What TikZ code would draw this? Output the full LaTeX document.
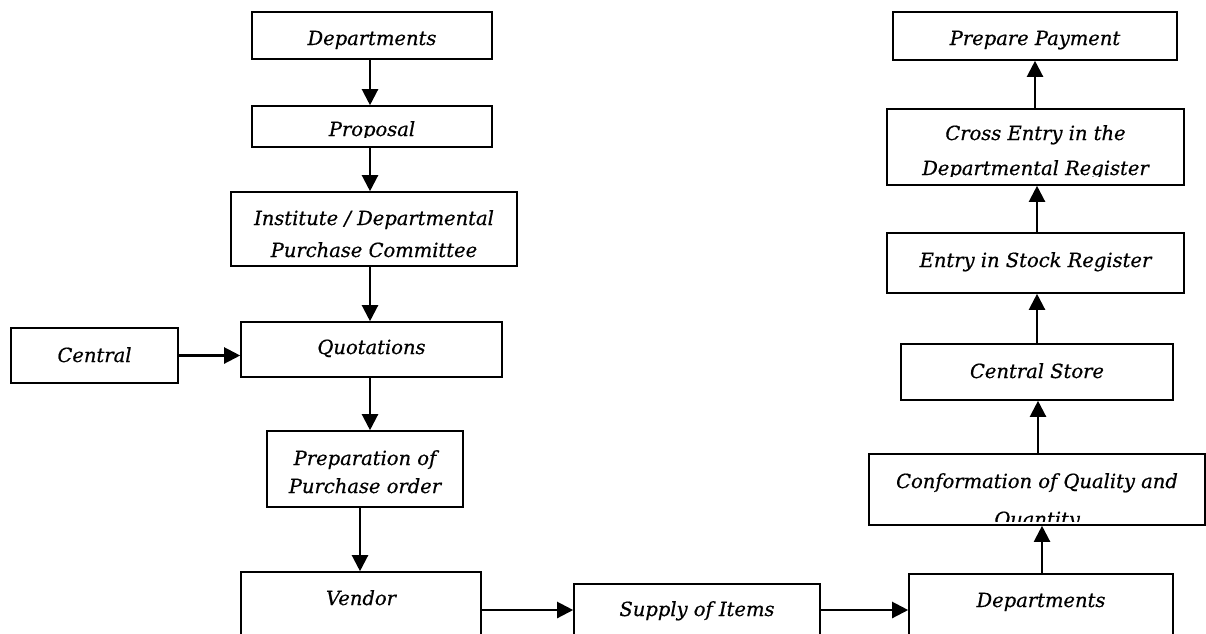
\documentclass[tikz,border=0pt]{standalone}
\usepackage{fontspec}
\setmainfont{DejaVu Serif}[ItalicFeatures={FakeBold=0.6}]
\usetikzlibrary{arrows.meta}
\newcommand\dgfont{\fontsize{19.5}{32}\selectfont\itshape}
\begin{document}
\begin{tikzpicture}[x=1pt,y=-1pt,
  box/.style={draw, line width=1.6pt, rectangle, inner sep=0pt, font=\dgfont, align=center},
  txt/.style={inner sep=0pt, font=\dgfont, align=center},
  arr/.style={line width=2.2pt, -{Triangle[length=16pt,width=16pt]}},
]
\useasboundingbox (0,0) rectangle (1206,633);
% left column
\node[box, minimum width=240pt, minimum height=47pt, text height=19pt, text depth=0pt] (dep1) at (372,35.5) {Departments};
\node[box, minimum width=240pt, minimum height=41pt] (prop) at (372,126.5) {};
\begin{scope}
  \clip (252,106) rectangle (492,137.2);
  \node[txt, anchor=base] (tprop) at (372,136) {Proposal};
\end{scope}
\node[box, minimum width=286pt, minimum height=74pt, text height=56pt, text depth=0pt] (inst) at (374,229) {Institute / Departmental\\Purchase Committee};
\node[box, minimum width=167pt, minimum height=55pt, text height=13pt, text depth=0pt] (central) at (94.5,355.5) {Central};
\node[box, minimum width=261pt, minimum height=55pt, text height=9pt, text depth=0pt] (quot) at (371.5,349.5) {Quotations};
\node[box, minimum width=196pt, minimum height=76pt, text height=48pt, text depth=0pt] (prep) at (365,469) {Preparation of\\[-4pt]Purchase order};
\node[box, minimum width=240pt, minimum height=68pt, text height=0pt, text depth=2pt] (vendor) at (361,606) {Vendor};
% bottom row
\node[box, minimum width=246pt, minimum height=56pt, text height=8pt, text depth=0pt] (supply) at (697,612) {Supply of Items};
\node[box, minimum width=264pt, minimum height=66pt, text height=0pt, text depth=0pt] (dep2) at (1041,607) {Departments};
% right column
\node[box, minimum width=336pt, minimum height=71pt] (conf) at (1037,489.5) {};
\begin{scope}
  \clip (869,454) rectangle (1205,521);
  \node[txt, anchor=base] (tconf) at (1037,526) {Conformation of Quality and\\[6pt]Quantity};
\end{scope}
\node[box, minimum width=272pt, minimum height=56pt, text height=12pt, text depth=0pt] (cstore) at (1037,372) {Central Store};
\node[box, minimum width=297pt, minimum height=60pt, text height=8pt, text depth=0pt] (stock) at (1035.5,263) {Entry in Stock Register};
\node[box, minimum width=297pt, minimum height=76pt] (cross) at (1035.5,147) {};
\begin{scope}
  \clip (887,109) rectangle (1184,176);
  \node[txt, anchor=base] (tcross) at (1035.5,175) {Cross Entry in the\\[3pt]Departmental Register};
\end{scope}
\node[box, minimum width=284pt, minimum height=48pt, text height=18pt, text depth=0pt] (pay) at (1035,36) {Prepare Payment};
% connectors
\draw[arr] (dep1.south -| 370,0) -- (prop.north -| 370,0);
\draw[arr] (prop.south -| 370,0) -- (inst.north -| 370,0);
\draw[arr] (inst.south -| 370,0) -- (quot.north -| 370,0);
\draw[arr] (central.east) -- (quot.west |- central.east);
\draw[arr] (quot.south -| 370,0) -- (prep.north -| 370,0);
\draw[arr] (prep.south -| 360,0) -- (vendor.north -| 360,0);
\draw[arr] (vendor.east |- 0,610) -- (supply.west |- 0,610);
\draw[arr] (supply.east |- 0,610) -- (dep2.west |- 0,610);
\draw[arr] (dep2.north -| 1042,0) -- (conf.south -| 1042,0);
\draw[arr] (conf.north -| 1038,0) -- (cstore.south -| 1038,0);
\draw[arr] (cstore.north -| 1037,0) -- (stock.south -| 1037,0);
\draw[arr] (stock.north -| 1037,0) -- (cross.south -| 1037,0);
\draw[arr] (cross.north -| 1035,0) -- (pay.south -| 1035,0);
\end{tikzpicture}
\end{document}
